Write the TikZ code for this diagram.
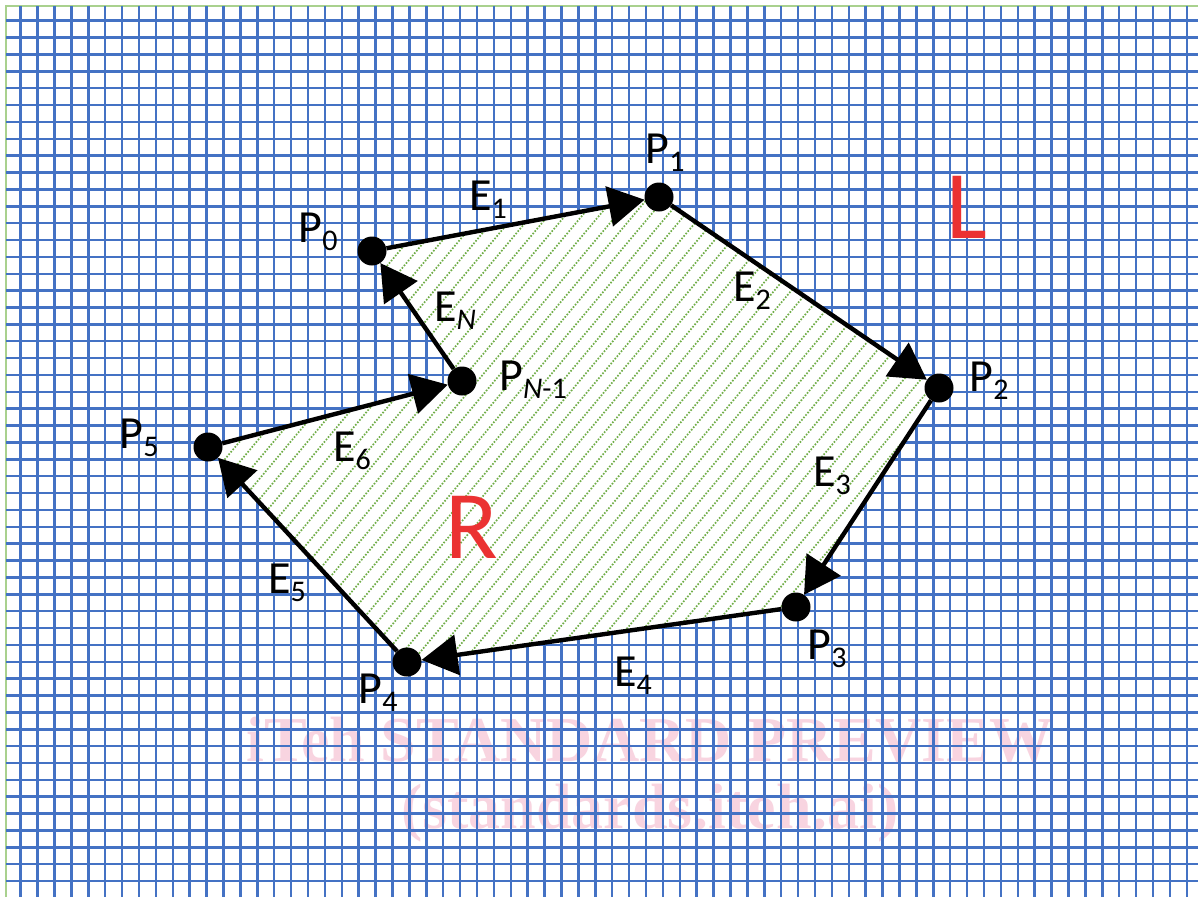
\documentclass[tikz,border=0pt]{standalone}
\usepackage{fontspec}
\setmainfont{Carlito}
\newfontfamily\wmfont{Liberation Serif}
\usetikzlibrary{arrows.meta}
\definecolor{gridblue}{RGB}{68,114,196}
\definecolor{hatchgreen}{RGB}{112,173,71}
\definecolor{edgegreen}{RGB}{169,209,142}
\definecolor{labred}{RGB}{235,50,50}
\definecolor{wmpink}{RGB}{248,212,224}
\newcommand\sublbl[2]{#1\raisebox{-8pt}{\fontsize{30}{30}\selectfont #2}}
\begin{document}
\begin{tikzpicture}[x=1pt,y=-1pt,
  gridline/.style={gridblue,line width=2.5pt},
  hatch/.style={hatchgreen,line width=1.7pt,dash pattern=on 1.6pt off 1.6pt},
  vertex/.style={circle,fill=black,inner sep=0pt,minimum size=29pt},
  edge/.style={line width=4.4pt,-{Triangle[length=36pt,width=40pt]}},
  lbl/.style={inner sep=0pt,font=\fontsize{46}{50}\selectfont},
  big/.style={inner sep=0pt,text=labred,font=\fontsize{97}{100}\selectfont}]
\useasboundingbox (0,0) rectangle (1198,897);
\fill[white] (0,0) rectangle (1198,897);
% watermark
\node[text=wmpink,font=\wmfont\bfseries\fontsize{64}{70}\selectfont] (wm1) at (650,740) {iTeh STANDARD PREVIEW};
\node[text=wmpink,font=\wmfont\bfseries\fontsize{64}{70}\selectfont] (wm2) at (650,813) {(standards.iteh.ai)};
% grid
\draw[edgegreen,line width=2pt] (6,897) -- (6,6) -- (1198,6);
\foreach \k in {0,...,69}
  \draw[gridline] ({20.7+16.9*\k},6) -- ({20.7+16.9*\k},897);
\foreach \k in {0,...,51}
  \draw[gridline] (6,{20.7+16.87*\k}) -- (1198,{20.7+16.87*\k});
% region
\coordinate (v0) at (372,251);
\coordinate (v1) at (659,197);
\coordinate (v2) at (939,388);
\coordinate (v3) at (796,607);
\coordinate (v4) at (407,662);
\coordinate (v5) at (208,447);
\coordinate (v6) at (462,381);
\fill[white] (v0) -- (v1) -- (v2) -- (v3) -- (v4) -- (v5) -- (v6) -- cycle;
\begin{scope}
\clip (v0) -- (v1) -- (v2) -- (v3) -- (v4) -- (v5) -- (v6) -- cycle;
\foreach \k in {0,...,75}
  \draw[hatch] ({-300+17*\k},700) -- ++(587,-700);
\end{scope}
\node[vertex] (P0) at (v0) {};
\node[vertex] (P1) at (v1) {};
\node[vertex] (P2) at (v2) {};
\node[vertex] (P3) at (v3) {};
\node[vertex] (P4) at (v4) {};
\node[vertex] (P5) at (v5) {};
\node[vertex] (PN) at (v6) {};
\draw[edge] (P0) -- (P1);
\draw[edge] (P1) -- (P2);
\draw[edge] (P2) -- (P3);
\draw[edge] (P3) -- (P4);
\draw[edge] (P4) -- (P5);
\draw[edge] (P5) -- (PN);
\draw[edge] (PN) -- (P0);
% labels
\node[lbl] (lP0) at (318,232) {\sublbl{P}{0}};
\node[lbl] (lP1) at (665,153) {\sublbl{P}{1}};
\node[lbl] (lP2) at (989,381) {\sublbl{P}{2}};
\node[lbl] (lP3) at (827,649) {\sublbl{P}{3}};
\node[lbl] (lP4) at (378,693) {\sublbl{P}{4}};
\node[lbl] (lP5) at (139,438) {\sublbl{P}{5}};
\node[lbl] (lPN) at (533,380) {\sublbl{P}{\textit{N}-1}};
\node[lbl] (lE1) at (488,200) {\sublbl{E}{1}};
\node[lbl] (lE2) at (752,291) {\sublbl{E}{2}};
\node[lbl] (lE3) at (832,476) {\sublbl{E}{3}};
\node[lbl] (lE4) at (633,676) {\sublbl{E}{4}};
\node[lbl] (lE5) at (287,583) {\sublbl{E}{5}};
\node[lbl] (lE6) at (352,451) {\sublbl{E}{6}};
\node[lbl] (lEN) at (455,311) {\sublbl{E}{\textit{N}}};
\node[big] (L) at (967,207) {L};
\node[big] (R) at (472,527) {R};
\end{tikzpicture}
\end{document}
